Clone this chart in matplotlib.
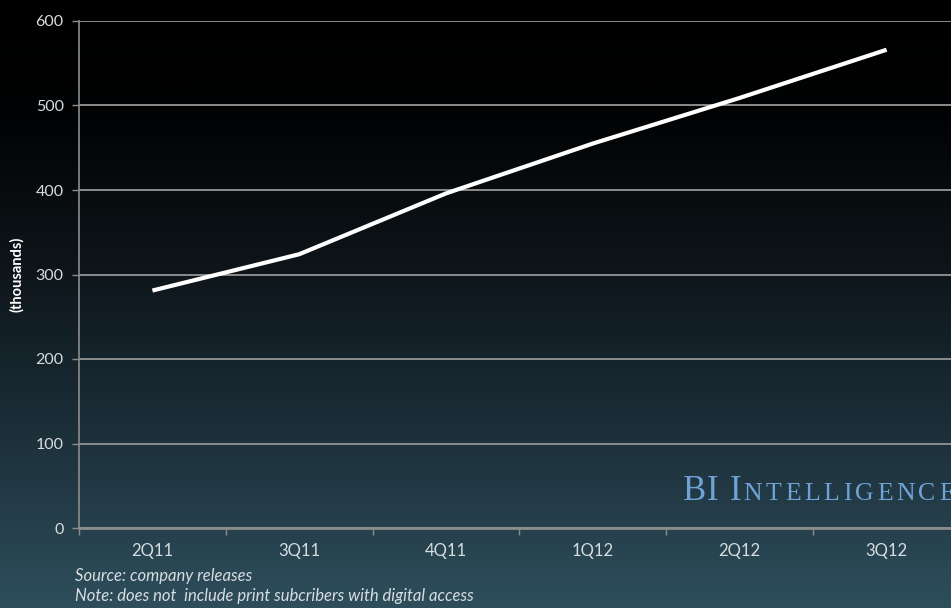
import numpy as np
import matplotlib
matplotlib.use("Agg")
import matplotlib.pyplot as plt
from matplotlib.colors import LinearSegmentedColormap

# Digital subscribers by quarter (thousands)
quarters = ["2Q11", "3Q11", "4Q11", "1Q12", "2Q12", "3Q12"]
subscribers = [281, 324, 396, 455, 509, 566]
y_ticks = [0, 100, 200, 300, 400, 500, 600]

W, H, DPI = 951, 608, 100
fig = plt.figure(figsize=(W / DPI, H / DPI), dpi=DPI)

# Background: black at the top fading to dark slate teal at the bottom
bg = fig.add_axes([0, 0, 1, 1], zorder=-10)
bg_cmap = LinearSegmentedColormap.from_list(
    "bg",
    [(0.0, "#000000"), (0.2, "#020304"), (0.45, "#0e161b"),
     (0.7, "#1b2e38"), (1.0, "#2e4e5c")],
)
grad = np.linspace(0, 1, 400).reshape(-1, 1)
bg.imshow(grad, aspect="auto", cmap=bg_cmap, extent=[0, 1, 0, 1], origin="upper")
bg.set_axis_off()

left_px, right_px, top_px, bottom_px = 79, 960, 21, 528
ax = fig.add_axes([left_px / W, 1 - bottom_px / H,
                   (right_px - left_px) / W, (bottom_px - top_px) / H])
ax.patch.set_alpha(0)

x = np.arange(len(quarters))
ax.plot(x, subscribers, color="white", lw=3.0, solid_capstyle="butt", zorder=5)

ax.set_xlim(-0.5, len(quarters) - 0.5)
ax.set_ylim(0, 600)

grid_col = "#8c8c8c"
ax.set_yticks(y_ticks)
ax.yaxis.grid(True, color=grid_col, lw=1.4)
ax.set_axisbelow(True)

for s in ["top", "right"]:
    ax.spines[s].set_visible(False)
ax.spines["left"].set_color(grid_col)
ax.spines["left"].set_linewidth(1.2)
ax.spines["bottom"].set_color(grid_col)
ax.spines["bottom"].set_linewidth(2.0)

label_font = "Lato"
tick_col = "#d8dde0"
ax.set_yticklabels([str(v) for v in y_ticks], fontsize=11.5,
                   color=tick_col, family=label_font)
ax.tick_params(axis="y", length=5, width=1, color=grid_col, pad=6)

ax.set_xticks(x)
ax.set_xticklabels(quarters, fontsize=12, color=tick_col, family=label_font)
ax.tick_params(axis="x", which="major", length=0, pad=11)
ax.set_xticks(np.arange(len(quarters) + 1) - 0.5, minor=True)
ax.tick_params(axis="x", which="minor", length=5, width=1, color=grid_col,
               direction="out")

ax.set_ylabel("(thousands)", fontsize=10.5, color="white", fontweight="bold",
              family=label_font, labelpad=8)

fig.text(75 / W, 1 - 576 / H, "Source: company releases", fontsize=12,
         style="italic", color=tick_col, family=label_font, va="center")
fig.text(75 / W, 1 - 596 / H,
         "Note: does not  include print subcribers with digital access",
         fontsize=12, style="italic", color=tick_col, family=label_font,
         va="center")

# Small-caps style brand mark, letter-spaced
brand_col = "#6fa3d6"
serif = "Liberation Serif"
renderer = fig.canvas.get_renderer()
base_y = 1 - 500 / H


def spaced(word, x0, size, gap):
    xpos = x0
    for ch in word:
        t = fig.text(xpos / W, base_y, ch, fontsize=size, color=brand_col,
                     family=serif, va="baseline", ha="left")
        xpos += t.get_window_extent(renderer=renderer).width + gap
    return xpos


spaced("BI", 683, 25, 1)
end = spaced("I", 730, 25, 2)
spaced("NTELLIGENCE", end, 18.5, 3.5)

fig.savefig("out.png", dpi=DPI, facecolor="black")
